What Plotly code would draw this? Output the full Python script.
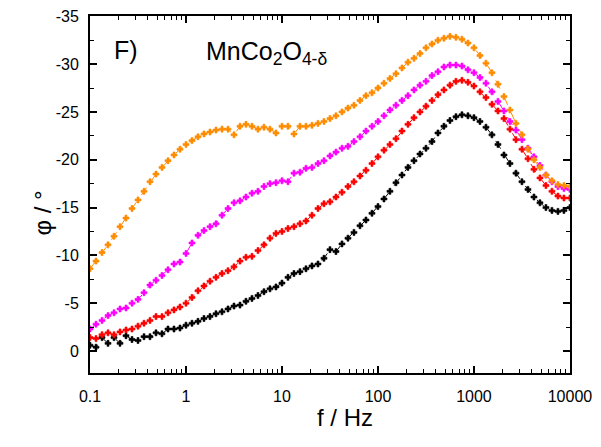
import numpy as np
import plotly.graph_objects as go

# Frequency sweep (log grid, ~16 points per decade)
freq = np.logspace(-1, 4, 81)

phi_orange = [-8.6, -9.4, -10.3, -11.1, -12.0, -13.0, -13.9, -14.9, -15.8, -16.7,
              -17.7, -18.5, -19.2, -19.9, -20.5, -21.1, -21.6, -22.0, -22.4, -22.7,
              -22.9, -23.1, -23.2, -23.2, -22.6, -23.5, -23.7, -23.5, -23.2, -23.4,
              -23.2, -22.8, -23.5, -23.5, -22.7, -23.5, -23.5, -23.6, -23.8, -24.0,
              -24.3, -24.6, -25.0, -25.4, -25.7, -26.2, -26.7, -27.0, -27.5, -28.0,
              -28.5, -29.0, -29.6, -30.2, -30.6, -31.1, -31.7, -32.1, -32.5, -32.7,
              -32.9, -32.8, -32.6, -32.2, -31.7, -30.9, -30.1, -29.1, -27.9, -26.6,
              -25.2, -23.8, -22.6, -21.1, -20.0, -19.2, -18.4, -17.8, -17.4, -17.3,
              -17.2]

phi_magenta = [-2.3, -2.8, -3.2, -3.7, -4.0, -4.4, -4.5, -5.0, -5.4, -6.1,
               -6.9, -7.4, -7.9, -8.5, -9.1, -9.3, -10.2, -11.3, -12.1, -12.6,
               -13.0, -13.3, -14.2, -14.9, -15.5, -15.7, -16.1, -16.5, -16.7, -17.2,
               -17.5, -17.6, -17.8, -17.7, -18.6, -18.7, -19.1, -19.2, -19.6, -19.9,
               -20.4, -20.8, -21.2, -21.4, -21.9, -22.4, -23.0, -23.5, -24.0, -24.6,
               -25.2, -25.7, -26.2, -26.7, -27.3, -27.8, -28.2, -28.8, -29.2, -29.7,
               -29.9, -29.9, -29.8, -29.4, -29.1, -28.6, -28.0, -27.1, -26.1, -25.1,
               -24.0, -23.1, -22.1, -21.2, -20.3, -19.4, -18.4, -17.7, -17.2, -17.0,
               -16.9]

phi_red = [-1.4, -1.3, -1.7, -1.9, -1.7, -2.0, -2.2, -2.3, -2.6, -2.9,
           -3.2, -3.6, -3.6, -4.0, -4.3, -4.6, -5.0, -5.6, -6.3, -6.8,
           -7.3, -7.7, -8.1, -8.4, -8.8, -9.4, -9.8, -9.9, -10.5, -11.1,
           -11.8, -12.3, -12.5, -12.8, -13.0, -13.3, -13.6, -14.2, -14.9, -15.4,
           -15.6, -16.1, -16.6, -17.2, -17.7, -18.3, -18.9, -19.6, -20.3, -21.0,
           -21.6, -22.2, -23.0, -23.7, -24.4, -25.0, -25.6, -26.2, -26.8, -27.3,
           -27.8, -28.2, -28.3, -28.1, -27.7, -27.1, -26.5, -25.8, -25.1, -24.3,
           -23.2, -22.1, -21.1, -20.1, -19.0, -18.1, -17.3, -16.7, -16.2, -16.0,
           -16.0]

phi_black = [-0.6, -0.4, -1.4, -0.8, -1.4, -0.8, -1.6, -1.2, -1.1, -1.5,
             -1.5, -1.9, -1.8, -2.3, -2.3, -2.4, -2.7, -2.9, -3.1, -3.4,
             -3.6, -3.9, -4.1, -4.4, -4.7, -4.8, -5.2, -5.5, -5.8, -6.2,
             -6.5, -6.7, -7.1, -7.7, -8.1, -8.3, -8.6, -8.9, -9.1, -9.7,
             -10.6, -10.4, -11.2, -11.8, -12.4, -13.1, -13.7, -14.4, -15.1, -15.9,
             -16.7, -17.6, -18.4, -19.2, -19.9, -20.6, -21.2, -21.9, -22.8, -23.5,
             -24.1, -24.5, -24.7, -24.6, -24.4, -24.0, -23.4, -22.6, -21.6, -20.5,
             -19.6, -18.6, -17.7, -16.9, -16.1, -15.5, -15.0, -14.7, -14.6, -14.7,
             -15.0]

x_tickvals = [0.1, 1, 10, 100, 1000, 10000]
x_ticktext = ["0.1", "1", "10", "100", "1000", "10000"]
y_tickvals = [0, -5, -10, -15, -20, -25, -30, -35]
y_ticktext = ["0", "-5", "-10", "-15", "-20", "-25", "-30", "-35"]

series = [
    (phi_black, "#000000"),
    (phi_red, "#FF0000"),
    (phi_magenta, "#FF00FF"),
    (phi_orange, "#FF8C00"),
]

FONT = "Arial, 'Liberation Sans', sans-serif"

# The page body adds an 8 px offset, so the figure is laid out 8 px up/left.
OFF = 8
W, H = 601, 447
l, t = 90 - OFF, 16 - OFF
pw, ph = 480, 357
r = W - l - pw
b = H - t - ph


def px2paper(px, py):
    px -= OFF
    py -= OFF
    return (px - l) / pw, (H - b - py) / ph


fig = go.Figure()
for vals, col in series:
    fig.add_trace(go.Scatter(
        x=freq, y=vals, mode="lines+markers",
        line=dict(color=col, width=1, dash="dash"),
        marker=dict(symbol="cross", size=5, color=col,
                    line=dict(width=0.6, color=col)),
        showlegend=False,
    ))

axis_common = dict(
    showgrid=False, zeroline=False, showline=True, linecolor="black",
    linewidth=2, mirror="ticks", ticks="inside", ticklen=7, tickwidth=1.5,
    tickcolor="black", tickfont=dict(family=FONT, size=16, color="black"),
    automargin=False, ticklabeloverflow="allow",
)

fig.update_xaxes(
    type="log", range=[-1, 4.0005], tickvals=x_tickvals, ticktext=x_ticktext,
    minor=dict(ticks="inside", ticklen=4, tickwidth=1, tickcolor="black",
               dtick="D1", showgrid=False),
    ticklabelstandoff=8,
    **axis_common,
)
fig.update_yaxes(
    range=[2.3, -35.03], tickvals=y_tickvals, ticktext=y_ticktext,
    minor=dict(ticks="inside", ticklen=4, tickwidth=1, tickcolor="black",
               dtick=2.5, tick0=0, showgrid=False),
    ticklabelstandoff=6,
    **axis_common,
)

ax, ay = px2paper(345, 433)
yx, yy = px2paper(26, 213)
fx, fy = px2paper(126, 50)
mx, my = px2paper(204, 53)

fig.update_layout(
    width=W, height=H,
    margin=dict(l=l, r=r, t=t, b=b, autoexpand=False),
    plot_bgcolor="white", paper_bgcolor="white",
    font=dict(family=FONT, color="black"),
    annotations=[
        dict(text="f / Hz", x=ax, y=ay, xref="paper", yref="paper",
             showarrow=False, font=dict(size=24)),
        dict(text="φ / °", x=yx, y=yy, xref="paper", yref="paper",
             showarrow=False, textangle=-90, font=dict(size=24)),
        dict(text="F)", x=fx, y=fy, xref="paper", yref="paper",
             xanchor="center", yanchor="middle", showarrow=False,
             font=dict(size=25)),
        dict(text="MnCo<sub>2</sub>O<sub>4-δ</sub>", x=mx, y=my,
             xref="paper", yref="paper", xanchor="left", yanchor="middle",
             showarrow=False, font=dict(size=25)),
    ],
)

fig.write_html("out.html")
